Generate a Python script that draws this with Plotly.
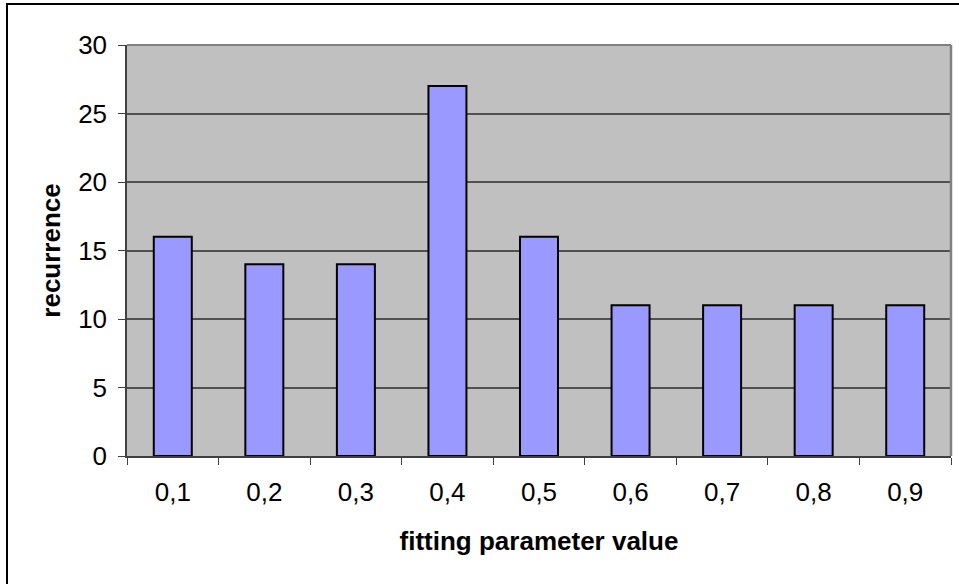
import plotly.graph_objects as go

# Histogram of fitted parameter values
categories = ["0,1", "0,2", "0,3", "0,4", "0,5", "0,6", "0,7", "0,8", "0,9"]
recurrence = [16, 14, 14, 27, 16, 11, 11, 11, 11]
y_ticks = [0, 5, 10, 15, 20, 25, 30]

FONT = "Liberation Sans, Arial, sans-serif"

# plot area in pixels
L, R, T, B = 127, 951, 45, 456
W, H = 959, 584
PW, PH = R - L, B - T

fig = go.Figure(
    go.Bar(
        x=categories,
        y=recurrence,
        marker=dict(color="#9999FF", line=dict(color="#000000", width=2)),
    )
)

fig.update_layout(
    width=W,
    height=H,
    margin=dict(l=L, r=W - R, t=T, b=H - B),
    paper_bgcolor="#FFFFFF",
    plot_bgcolor="#C0C0C0",
    bargap=0.585,
    showlegend=False,
    font=dict(family=FONT, size=26, color="#000000"),
    xaxis=dict(
        type="category",
        tickson="boundaries",
        ticks="outside",
        ticklen=7,
        tickwidth=1,
        tickcolor="#404040",
        showline=True,
        linecolor="#404040",
        linewidth=1.5,
        showgrid=False,
        tickfont=dict(family=FONT, size=26),
        ticklabelstandoff=12,
        title=dict(
            text="<b>fitting parameter value</b>",
            font=dict(family=FONT, size=26),
            standoff=26,
        ),
    ),
    yaxis=dict(
        range=[0, 30],
        tickvals=y_ticks,
        ticks="outside",
        ticklen=7,
        tickwidth=1,
        tickcolor="#404040",
        showline=True,
        linecolor="#404040",
        linewidth=1.5,
        showgrid=True,
        gridcolor="#505050",
        gridwidth=1.5,
        zeroline=False,
        tickfont=dict(family=FONT, size=26),
        ticklabelstandoff=6,
        title=dict(
            text="<b>recurrence</b>",
            font=dict(family=FONT, size=26),
            standoff=10,
        ),
    ),
    shapes=[
        # plot-area frame on the top and right
        dict(type="line", xref="paper", yref="paper", x0=0, x1=1, y0=1, y1=1,
             line=dict(color="#808080", width=2)),
        dict(type="line", xref="paper", yref="paper", x0=1, x1=1, y0=0, y1=1,
             line=dict(color="#808080", width=2.5)),
        # outer chart border (runs off the right and bottom edges)
        dict(type="rect", xref="paper", yref="paper",
             x0=(7 - L) / PW, x1=(W + 10 - L) / PW,
             y0=(B - (H + 10)) / PH, y1=(B - 4) / PH,
             line=dict(color="#000000", width=2), layer="below"),
    ],
)

fig.write_html("out.html")
